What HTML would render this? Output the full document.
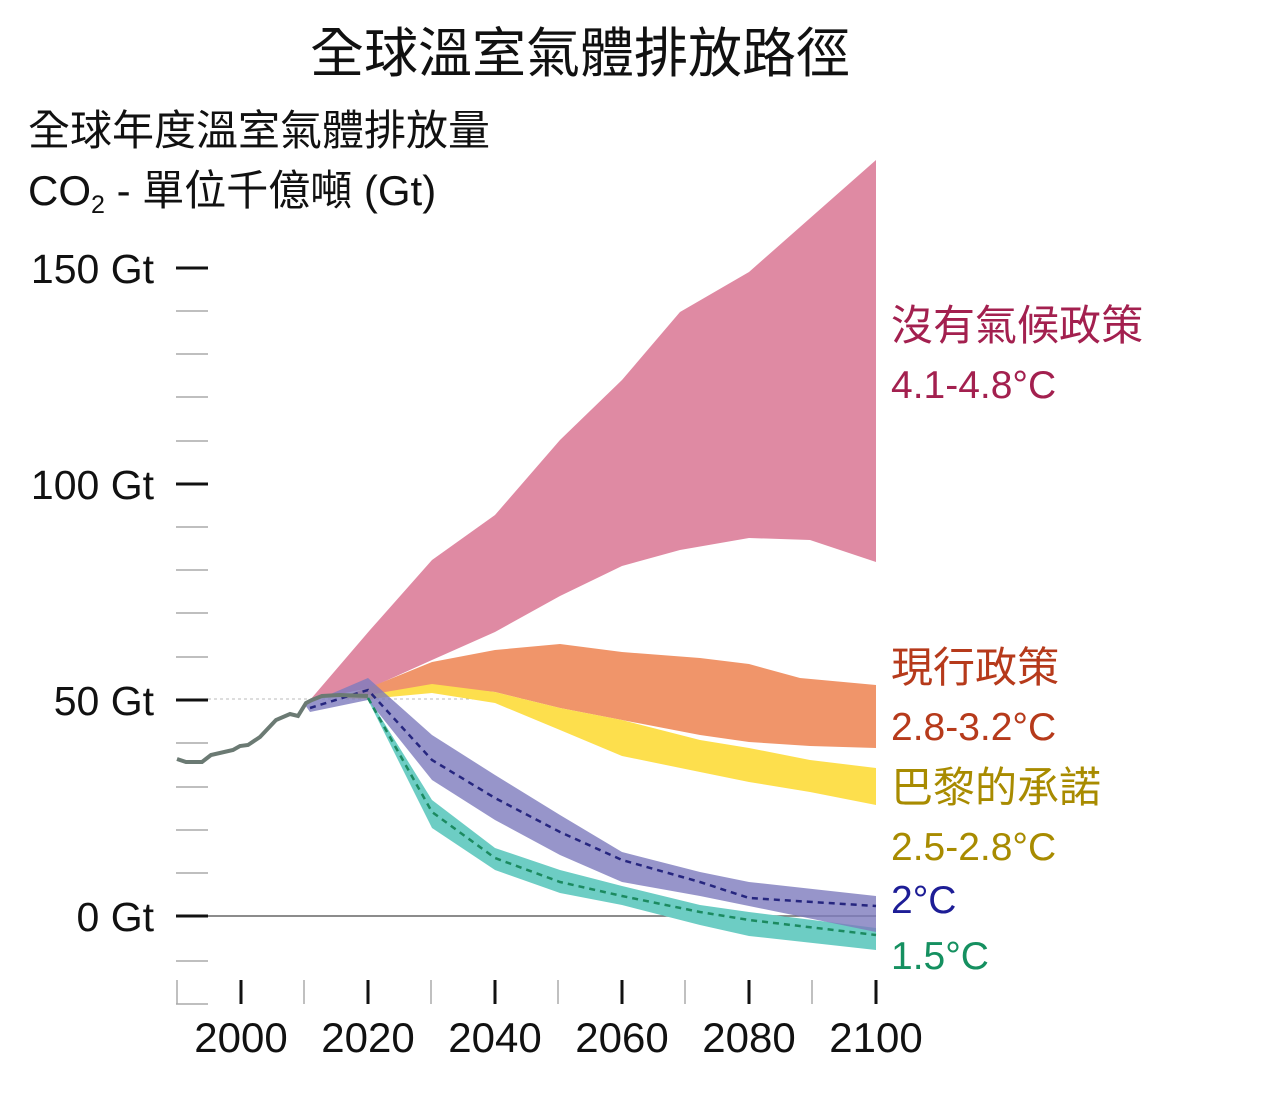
<!DOCTYPE html>
<html><head><meta charset="utf-8"><style>
body{margin:0;background:#fff;}
svg text{font-family:"Liberation Sans","Noto Sans CJK TC",sans-serif;}
</style></head><body>
<svg width="1280" height="1089" viewBox="0 0 1280 1089" xmlns="http://www.w3.org/2000/svg">
<text x="580" y="72" font-size="54" text-anchor="middle" fill="#111">全球溫室氣體排放路徑</text>
<text x="28" y="145" font-size="42" fill="#111">全球年度溫室氣體排放量</text>
<text x="28" y="205" font-size="42" fill="#111">CO<tspan font-size="25" dy="8">2</tspan><tspan dy="-8"> - 單位千億噸 (Gt)</tspan></text>
<g font-size="41" fill="#111" text-anchor="end">
<text x="154" y="283">150 Gt</text>
<text x="154" y="499">100 Gt</text>
<text x="154" y="715">50 Gt</text>
<text x="154" y="931">0 Gt</text>
</g>
<g stroke="#aaa" stroke-width="1.5">
<line x1="176" x2="208" y1="311" y2="311"/><line x1="176" x2="208" y1="354" y2="354"/><line x1="176" x2="208" y1="397" y2="397"/><line x1="176" x2="208" y1="441" y2="441"/>
<line x1="176" x2="208" y1="527" y2="527"/><line x1="176" x2="208" y1="570" y2="570"/><line x1="176" x2="208" y1="613" y2="613"/><line x1="176" x2="208" y1="657" y2="657"/>
<line x1="176" x2="208" y1="743" y2="743"/><line x1="176" x2="208" y1="787" y2="787"/><line x1="176" x2="208" y1="830" y2="830"/><line x1="176" x2="208" y1="873" y2="873"/>
<line x1="176" x2="208" y1="961" y2="961"/><line x1="176" x2="208" y1="1004" y2="1004"/>
<line x1="177" x2="177" y1="980" y2="1004"/>
<line x1="304" x2="304" y1="980" y2="1004"/><line x1="431" x2="431" y1="980" y2="1004"/><line x1="558" x2="558" y1="980" y2="1004"/><line x1="685" x2="685" y1="980" y2="1004"/><line x1="812" x2="812" y1="980" y2="1004"/>
</g>
<g stroke="#111" stroke-width="3">
<line x1="176" x2="208" y1="268" y2="268"/><line x1="176" x2="208" y1="484" y2="484"/><line x1="176" x2="208" y1="700" y2="700"/><line x1="176" x2="208" y1="916" y2="916"/>
<line x1="241" x2="241" y1="980" y2="1004"/><line x1="368" x2="368" y1="980" y2="1004"/><line x1="495" x2="495" y1="980" y2="1004"/><line x1="622" x2="622" y1="980" y2="1004"/><line x1="749" x2="749" y1="980" y2="1004"/><line x1="876" x2="876" y1="980" y2="1004"/>
</g>
<g font-size="42" fill="#111" text-anchor="middle">
<text x="241" y="1052">2000</text><text x="368" y="1052">2020</text><text x="495" y="1052">2040</text><text x="622" y="1052">2060</text><text x="749" y="1052">2080</text><text x="876" y="1052">2100</text>
</g>
<line x1="208" x2="876" y1="916" y2="916" stroke="#666" stroke-width="1.5"/>
<line x1="208" x2="876" y1="699" y2="699" stroke="#bbb" stroke-width="1" stroke-dasharray="3,3"/>
<path d="M310,700 L370,630 L432,560 L495,515 L560,440 L622,380 L680,312 L749,272 L876,160 L876,562 L810,540 L749,538 L680,550 L622,566 L560,596 L495,632 L432,660 L370,688 Z" fill="#df8aa3"/>
<path d="M340,697 L368,688 L432,662 L495,650 L560,644 L622,652 L700,658 L749,664 L800,678 L876,685 L876,748 L810,746 L749,742 L700,735 L622,720 L560,708 L495,692 L432,686 L368,697 Z" fill="#f0956a"/>
<path d="M340,698 L368,695 L432,684 L495,692 L560,708 L622,720 L700,740 L749,748 L810,760 L876,768 L876,805 L810,792 L749,782 L700,772 L622,756 L560,730 L495,703 L432,693 L368,699 Z" fill="#fddf4d"/>
<path d="M368,697 L432,800 L495,848 L560,870 L622,886 L700,905 L749,912 L876,928 L876,950 L749,936 L700,925 L622,905 L560,893 L495,870 L432,828 L368,700 Z" fill="#6dcdc4"/>
<path d="M305,705 L368,678 L432,735 L495,775 L560,815 L622,852 L700,872 L749,882 L876,896 L876,932 L749,906 L700,896 L622,882 L560,855 L495,820 L432,780 L368,700 L310,712 Z" fill="#7d7bbd" fill-opacity="0.8"/>
<path d="M310,708 L368,690 L432,760 L495,798 L560,832 L622,860 L700,882 L749,898 L876,906" fill="none" stroke="#26267f" stroke-width="2.5" stroke-dasharray="6,5"/>
<path d="M368,698 L432,812 L495,858 L560,882 L622,896 L700,912 L749,920 L876,935" fill="none" stroke="#1c8a60" stroke-width="2.5" stroke-dasharray="6,5"/>
<path d="M177,759 L186,762 L202,762 L211,755 L233,750 L240,746 L248,745 L260,737 L276,720 L290,714 L298,716 L306,703 L312,700 L322,696 L340,695 L368,696" fill="none" stroke="#6b7a73" stroke-width="4"/>
<g font-size="42">
<text x="891" y="340" fill="#a3204f">沒有氣候政策</text>
<text x="891" y="682" fill="#b63a1b">現行政策</text>
<text x="891" y="802" fill="#a88b00">巴黎的承諾</text>
</g>
<g font-size="39">
<text x="891" y="398" fill="#a3204f">4.1-4.8°C</text>
<text x="891" y="740" fill="#b63a1b">2.8-3.2°C</text>
<text x="891" y="860" fill="#a88b00">2.5-2.8°C</text>
<text x="891" y="913" fill="#1d1d96">2°C</text>
<text x="891" y="969" fill="#159060">1.5°C</text>
</g>
</svg>
</body></html>
